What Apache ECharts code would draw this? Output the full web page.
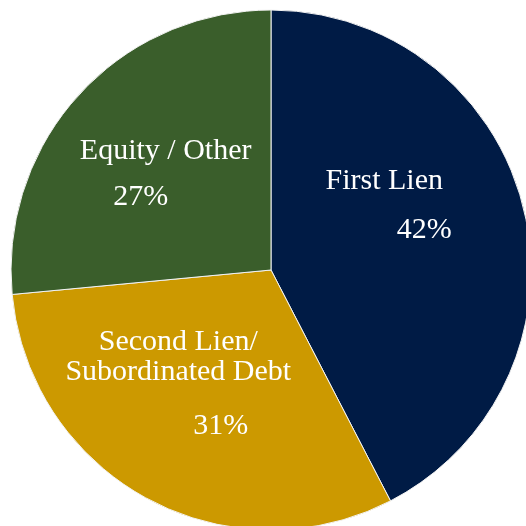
<!DOCTYPE html>
<html>
<head>
<meta charset="utf-8">
<script src="https://cdn.jsdelivr.net/npm/echarts@6/dist/echarts.min.js"></script>
<style>
  html, body { margin: 0; padding: 0; background: #fff; }
  #chart { width: 526px; height: 526px; }
</style>
</head>
<body>
<div id="chart"></div>
<script>
// portfolio mix (slice angles), labels show rounded %
var names = ["First Lien", "Second Lien/\nSubordinated Debt", "Equity / Other"];
var values = [42.4, 31.1, 26.5];
var colors = ["#001b45", "#cc9900", "#3a5e2b"];

// label nudges per slice (style only)
var labelShift = [[-16, -23], [-29, 9], [-7, 2]];

var chart = echarts.init(document.getElementById("chart"));

var data = names.map(function (n, i) {
  return { name: n, value: values[i], itemStyle: { color: colors[i] } };
});

var font = "Liberation Serif";

var option = {
  animation: false,
  series: [
    {
      type: "pie",
      center: [271, 270],
      radius: 260,
      startAngle: 90,
      clockwise: true,
      data: data,
      itemStyle: {
        borderColor: "#f2f2f2",
        borderWidth: 1,
      },
      label: {
        show: true,
        position: "inside",
        color: "#fff",
        fontFamily: font,
        fontSize: 30,
        formatter: function (p) {
          return "{n|" + p.name + "}\n{p" + p.dataIndex + "|" + Math.round(p.value) + "%}";
        },
        rich: {
          n: { color: "#fff", fontFamily: font, fontSize: 30, lineHeight: 30 },
          p0: { color: "#fff", fontFamily: font, fontSize: 30, lineHeight: 68, padding: [0, 0, 0, 80] },
          p1: { color: "#fff", fontFamily: font, fontSize: 30, lineHeight: 78, padding: [0, 0, 0, 85] },
          p2: { color: "#fff", fontFamily: font, fontSize: 30, lineHeight: 62, padding: [0, 50, 0, 0] },
        },
      },
      labelLayout: function (params) {
        var s = labelShift[params.dataIndex];
        return { dx: s[0], dy: s[1] };
      },
      emphasis: { disabled: true },
    },
  ],
};

chart.setOption(option);
</script>
</body>
</html>
